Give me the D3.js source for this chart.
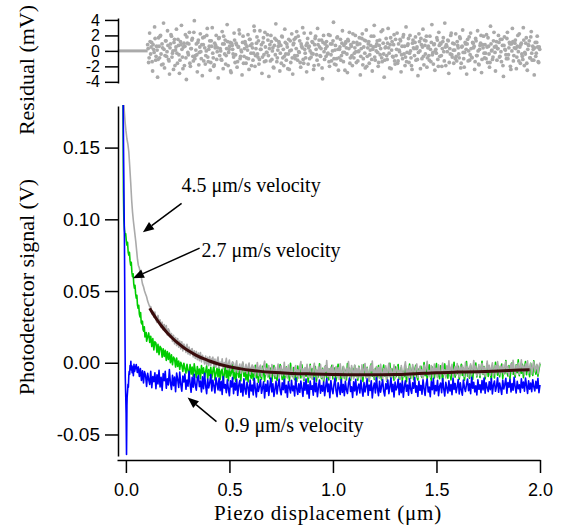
<!DOCTYPE html>
<html><head><meta charset="utf-8">
<script src="https://cdn.jsdelivr.net/npm/d3@7"></script>
<style>
html,body{margin:0;padding:0;background:#fff;}
svg{display:block;}
</style></head>
<body>
<script>
// ---------------- DATA (signal in mV, displacement in µm) ----------------
const xTicks = [0, 0.5, 1.0, 1.5, 2.0];
const yTicks = [-0.05, 0, 0.05, 0.10, 0.15];
const resTicks = [-4, -2, 0, 2, 4];
const tailStep = 0.005;

// 4.5 µm/s trace (gray)
const grayHead = [[-0.016,250],[-0.012,190],[-0.008,176],[-0.004,168],[0.0,162],[0.005,156],[0.01,152],[0.014,147],[0.018,138],[0.023,126],[0.028,113],[0.032,105],[0.036,99],[0.04,94],[0.044,89],[0.048,84],[0.052,78],[0.056,72],[0.06,68],[0.065,66],[0.07,62],[0.075,59],[0.08,55],[0.085,53],[0.09,50],[0.095,48],[0.1,46],[0.105,43],[0.11,41],[0.115,39]];
const grayTailStart = 0.12;
const grayTail = [
39.2,34.1,36.0,31.8,35.4,30.2,28.1,33.0,27.4,29.9,24.6,28.3,23.0,26.7,21.8,25.9,19.4,23.6,22.1,17.8,
20.3,14.9,19.2,13.1,17.6,12.0,16.9,10.8,15.2,9.7,14.6,8.3,13.0,11.4,7.2,12.8,6.1,10.9,5.4,9.3,
9.8,4.1,8.3,3.0,7.9,2.2,6.8,1.4,7.1,0.6,5.2,2.9,-0.8,4.6,-1.3,3.8,-2.0,4.4,-1.9,2.7,
3.9,-2.4,2.6,-3.1,1.2,4.0,-3.8,0.5,-2.2,2.8,-4.3,0.1,-1.5,3.1,-4.7,-0.6,1.9,-5.2,-1.4,0.7,
-0.3,-6.1,-2.0,1.4,-6.8,-3.3,-0.9,-7.2,-1.8,0.6,-6.4,-4.0,-1.1,-7.5,-2.7,-0.2,-8.0,-3.6,-1.5,-7.1,
-2.3,-8.4,-4.6,0.2,-8.9,-3.0,-1.7,-9.3,-5.1,-2.4,1.1,-8.2,-3.9,-9.6,-2.0,-6.3,-10.1,-1.2,-4.4,-9.0,
-3.1,-9.8,-5.5,-0.9,-10.4,-4.0,-2.2,-9.1,-6.7,0.4,-8.8,-3.5,-10.6,-1.6,-5.8,-9.9,-2.9,-7.7,-11.0,-3.8,
-1.9,-9.5,-4.9,-10.7,-2.6,0.8,-8.6,-4.2,-11.2,-3.3,-6.9,-1.0,-10.0,-5.2,-2.1,-9.4,-11.5,-3.7,-0.4,-8.1,
-5.0,-10.9,-2.8,-7.6,-1.3,-10.3,-4.5,-11.8,-2.4,-6.2,1.5,-9.7,-4.1,-11.0,-3.0,-8.5,-1.8,-10.6,-5.6,-2.7,
-9.9,-3.4,-11.6,-0.7,-6.8,-10.2,-2.5,-4.9,-12.0,-3.8,-9.1,0.9,-7.3,-10.8,-2.0,-5.4,-11.3,-1.6,-8.7,-4.0,
-10.5,-2.9,-6.1,-11.9,-1.4,-9.6,-4.3,-0.5,-10.9,-3.6,-7.8,-12.1,-2.2,-5.7,1.2,-9.3,-4.8,-11.4,-2.6,-8.0,
-3.3,-10.7,-1.0,-6.5,-11.7,-4.0,-8.9,-2.1,-12.3,-5.1,-0.3,-9.8,-3.9,-10.4,-6.7,-1.5,-11.1,-4.6,-2.8,-9.2,
-5.3,-11.5,-1.9,-7.4,-10.0,-3.1,0.7,-9.0,-4.4,-11.2,-2.3,-6.0,-10.6,-1.2,-4.9,-9.7,-3.5,-0.8,-10.3,-5.8,
-2.5,-9.4,-4.7,-11.0,-1.6,-6.9,-3.2,1.0,-8.8,-5.5,-10.1,-2.0,-4.1,-9.6,-0.9,-7.1,-3.8,-10.4,-1.4,-6.2,
-9.2,-3.0,-0.2,-8.3,-4.9,-10.5,-2.1,-6.6,1.4,-9.0,-3.7,-1.1,-10.0,-5.2,-2.6,-8.7,-0.5,-4.4,-9.8,-2.9,
-7.5,-1.8,-4.2,-9.6,0.3,-5.9,-2.7,-10.2,-3.6,-0.8,-8.4,-4.8,1.6,-7.0,-2.3,-9.1,-5.4,-1.2,-8.9,-3.3,
-0.4,-7.8,-2.9,-9.4,-4.5,1.2,-6.3,-1.7,-8.6,-3.8,-0.1,-9.0,-5.0,-2.0,-7.4,0.8,-4.1,-8.2,-2.5,-6.7,
-1.3,-8.0,-3.2,0.9,-6.9,-2.4,-9.1,-4.6,-0.6,-7.5,1.7,-3.9,-8.4,-1.8,-5.5,-0.2,-7.9,-3.0,2.0,-6.1,
-2.2,-8.3,-0.9,-4.8,1.3,-7.2,-3.1,-0.5,-8.0,-2.6,0.6,-6.4,-3.7,-1.0,-7.7,-2.9,0.2];

// 2.7 µm/s trace (green)
const greenHead = [[-0.017,250],[-0.014,190],[-0.013,150],[-0.012,120],[-0.010,100],[-0.007,93],[-0.004,89],[-0.001,90],[0.002,85],[0.005,82],[0.008,84],[0.011,77],[0.014,75],[0.017,77],[0.020,71],[0.023,68],[0.026,70],[0.029,63],[0.032,60],[0.035,62],[0.038,55],[0.041,52],[0.044,54],[0.047,48],[0.050,45],[0.053,47],[0.056,40],[0.059,38],[0.062,40],[0.065,34],[0.068,32],[0.071,35],[0.074,28],[0.077,27],[0.080,29],[0.083,23],[0.086,22],[0.089,25],[0.092,18],[0.095,19],[0.098,21],[0.100,15]];
const greenTailStart = 0.11;
const greenTail = [
20.8,14.2,18.5,11.3,16.9,9.0,14.7,13.8,7.2,12.9,5.6,11.4,10.2,3.9,9.8,4.4,8.7,1.6,7.9,2.3,
6.8,0.1,5.5,-1.4,4.0,2.7,-3.0,3.3,-2.5,1.2,-4.6,0.4,-1.8,-6.0,-0.3,-4.1,-7.2,-1.0,-5.5,-8.3,
-1.2,-7.9,-3.0,-9.6,-0.8,-5.7,-10.4,-2.6,-8.1,-4.4,-11.2,-1.9,-7.3,-3.5,-10.0,-6.2,-2.1,-11.5,-4.8,-8.9,
-3.2,-10.6,-5.9,-1.6,-12.0,-7.4,-3.8,-9.8,-2.5,-11.7,-6.0,-4.4,-13.1,-8.2,-2.0,-10.3,-5.1,-12.5,-3.6,-9.2,
-6.7,-1.4,-11.3,-4.0,-13.0,-7.8,-2.7,-10.1,-5.5,-12.6,-3.1,-0.6,-9.4,-6.3,-11.9,-4.7,-13.4,-2.2,-8.5,-10.8,
-4.1,-12.2,-7.0,-1.8,-10.5,-5.6,-13.6,-3.3,-8.9,-11.4,-2.4,-6.8,-12.9,-4.9,-0.9,-9.7,-7.5,-11.1,-3.7,-13.2,
-5.8,-2.0,-10.9,-7.7,-12.4,-3.6,-9.1,-1.2,-6.2,-11.6,-4.5,-13.8,-8.0,-2.9,-10.2,-5.3,-12.7,-0.4,-7.1,-9.6,
-3.4,-11.8,-6.5,-13.1,-2.3,-8.7,-4.8,-10.6,-1.5,-7.9,-12.3,-5.0,-9.3,-3.0,-13.5,-6.9,-1.1,-10.4,-4.2,-11.5,
-7.6,-2.6,-12.8,-5.4,-9.9,-0.7,-6.6,-11.0,-3.9,-13.3,-8.4,-2.1,-10.7,-5.9,-12.0,-4.3,-8.1,-1.7,-11.2,-6.4,
-3.5,-12.6,-7.2,-1.0,-9.5,-4.6,-13.7,-6.1,-2.8,-10.8,-5.2,-11.9,-0.5,-8.6,-3.7,-12.4,-7.0,-4.1,-10.1,-1.9,
-9.0,-5.7,-12.1,-2.4,-7.8,-11.3,-4.4,-13.0,-1.3,-6.9,-10.0,-3.2,-8.8,-12.7,-5.1,-0.8,-9.4,-6.2,-11.6,-3.9,
-13.1,-7.3,-2.0,-10.5,-4.9,-11.9,-6.6,-1.6,-9.2,-3.6,-12.8,-8.0,-5.3,-0.3,-10.9,-4.2,-7.5,-12.2,-2.7,-9.7,
-5.6,-1.2,-11.4,-7.9,-3.4,-12.5,-6.0,-9.6,-2.2,-13.2,-4.8,-8.3,-0.9,-10.7,-6.4,-3.1,-11.8,-5.0,-1.7,-9.3,
-12.0,-4.3,-7.7,-2.5,-10.2,-6.1,0.2,-9.0,-3.8,-11.5,-5.7,-1.4,-8.6,-12.3,-3.0,-7.0,-10.6,-4.5,-0.6,-9.8,
-5.2,-11.1,-2.1,-7.4,-12.6,-3.9,-0.8,-9.3,-5.8,-10.7,-1.6,-6.8,-11.9,-3.3,-8.1,0.4,-10.0,-4.7,-7.6,-2.4,
-11.4,-5.5,-1.1,-8.8,-3.6,-12.1,-6.5,0.8,-9.4,-4.0,-10.8,-2.0,-7.2,-11.7,-3.1,-6.0,-0.2,-9.9,-5.1,-2.8,
-10.3,-4.6,1.1,-8.1,-2.7,-11.2,-5.9,-0.5,-9.5,-3.4,-7.0,-12.0,-1.8,-6.3,-10.6,0.3,-4.2,-8.7,-2.3,-9.8,
-5.0,-0.9,-10.9,-3.8,-7.6,1.5,-6.1,-9.2,-2.0,-11.3,-4.4,-0.1,-8.0,-5.6,-10.1,-1.5,-6.9,2.0,-9.0,-3.2,
-7.3,-1.1,-10.4,-4.0,0.9,-8.4,-2.6,-6.2,-9.7,-0.4,-5.3,-8.8,1.4,-3.5,-7.9,-1.8,-9.3,-4.6,-0.7];

// 0.9 µm/s trace (blue)
const blueHead = [[-0.018,260],[-0.014,200],[-0.011,140],[-0.009,110],[-0.007,85],[-0.006,60],[-0.005,35],[-0.004,10],[-0.003,-10],[-0.001,-22],[0.001,-35],[0.003,-64],[0.005,-30],[0.006,-24],[0.008,-20],[0.010,-15],[0.012,-17],[0.014,-9],[0.016,-6],[0.018,-8],[0.020,-2],[0.022,-4],[0.024,1],[0.026,-5],[0.028,-2],[0.030,-7],[0.033,-3],[0.036,-9],[0.039,-1],[0.042,-6]];
const blueTailStart = 0.05;
const blueTail = [
-1.2,-6.8,-2.9,-9.5,-4.1,-12.3,-5.6,-14.0,-6.2,-8.9,-16.5,-7.3,-11.8,-15.1,-5.9,-17.4,-9.6,-13.2,-7.0,-18.1,
-8.4,-14.7,-5.2,-16.9,-10.1,-19.3,-7.6,-12.5,-6.0,-17.8,-11.2,-15.4,-4.8,-13.9,-18.6,-8.7,-16.0,-9.9,-20.2,-7.1,
-11.6,-17.2,-6.5,-15.0,-19.8,-9.3,-13.4,-7.8,-18.5,-12.0,-16.3,-5.9,-14.8,-20.6,-10.2,-17.0,-8.1,-15.7,-19.1,-11.0,
-8.9,-16.6,-12.7,-20.3,-9.8,-18.0,-7.4,-15.9,-21.5,-11.3,-17.5,-13.8,-8.2,-19.6,-12.1,-16.2,-21.0,-10.4,-14.5,-18.9,
-10.8,-19.4,-13.0,-22.1,-9.6,-17.7,-15.2,-20.8,-11.9,-18.3,-23.0,-12.6,-16.8,-10.3,-21.6,-14.1,-19.0,-11.5,-22.7,-15.8,
-12.4,-20.5,-14.9,-23.2,-11.1,-18.6,-21.9,-13.7,-17.1,-24.1,-12.0,-19.7,-15.6,-22.5,-10.9,-18.1,-23.8,-14.3,-20.0,-16.4,
-11.8,-21.3,-17.7,-13.2,-24.6,-15.0,-19.9,-12.5,-22.8,-16.6,-10.7,-20.4,-14.6,-23.5,-18.4,-12.9,-21.7,-16.0,-11.4,-19.2,
-22.3,-14.0,-18.8,-11.6,-20.9,-15.7,-24.0,-13.1,-17.3,-21.0,-12.2,-19.5,-16.3,-23.1,-10.8,-18.0,-22.0,-14.7,-20.6,-12.8,
-17.9,-23.4,-13.6,-19.1,-11.3,-21.8,-15.4,-24.7,-12.7,-18.5,-16.1,-22.6,-10.5,-20.2,-14.2,-23.7,-17.0,-12.0,-21.2,-15.9,
-19.8,-13.4,-22.9,-16.7,-11.0,-20.1,-14.8,-24.3,-12.4,-18.2,-21.5,-15.3,-10.9,-19.4,-23.6,-13.9,-17.6,-22.1,-11.7,-20.7,
-15.1,-23.0,-12.9,-18.9,-21.4,-14.4,-10.6,-20.0,-16.8,-24.2,-13.3,-19.6,-11.5,-22.4,-17.2,-14.9,-21.1,-12.3,-18.7,-23.3,
-13.8,-20.3,-16.4,-11.2,-22.7,-15.6,-19.3,-12.6,-24.5,-17.4,-14.1,-21.0,-10.4,-18.1,-22.9,-13.0,-20.5,-16.2,-11.9,-19.7,
-23.1,-14.6,-18.3,-12.1,-21.6,-16.9,-10.7,-20.2,-15.0,-23.8,-13.5,-19.0,-17.1,-11.6,-22.2,-14.3,-20.8,-12.8,-24.0,-16.5,
-12.5,-19.9,-15.5,-22.6,-11.1,-18.4,-21.3,-14.0,-17.8,-10.3,-20.6,-16.1,-23.4,-12.9,-19.2,-15.8,-21.9,-11.8,-18.0,-22.8,
-14.8,-11.4,-20.4,-17.0,-23.6,-13.1,-18.7,-10.8,-21.7,-15.9,-19.5,-12.2,-22.9,-16.3,-14.2,-20.9,-11.0,-18.2,-23.2,-13.7,
-17.5,-21.1,-12.6,-19.7,-15.2,-22.3,-10.9,-18.6,-14.4,-20.8,-16.7,-11.7,-21.8,-13.9,-19.1,-22.6,-12.1,-17.2,-20.0,-15.0,
-11.3,-19.4,-14.7,-21.5,-10.2,-17.8,-13.6,-20.3,-16.1,-22.4,-11.9,-18.5,-15.3,-20.9,-12.4,-19.0,-10.6,-21.2,-14.0,-17.3,
-20.1,-13.2,-18.8,-11.0,-21.7,-15.6,-12.7,-19.9,-16.4,-10.4,-20.6,-14.1,-17.9,-22.0,-12.0,-18.3,-15.1,-10.9,-21.3,-13.8,
-17.0,-11.6,-20.4,-14.5,-19.2,-10.1,-16.8,-21.1,-12.9,-18.1,-15.4,-20.7,-11.2,-17.6,-13.5,-19.8,-10.7,-16.0,-21.4,-12.6,
-18.4,-14.2,-20.2,-11.8,-16.7,-19.6,-13.0,-17.9,-10.9,-20.8,-15.5];

// exponential fit to the 4.5 µm/s trace
const fitCurve = [[0.115,38],[0.13,34.4],[0.15,30.0],[0.17,26.0],[0.2,20.8],[0.225,17.1],[0.25,13.8],[0.275,11.0],[0.3,8.5],[0.325,6.4],[0.35,4.5],[0.375,2.8],[0.4,1.4],[0.45,-1.0],[0.5,-2.8],[0.55,-4.1],[0.6,-5.2],[0.65,-6.0],[0.7,-6.6],[0.8,-7.4],[0.9,-7.8],[1.0,-8.1],[1.1,-8.3],[1.2,-8.3],[1.3,-8.2],[1.4,-7.6],[1.5,-6.9],[1.6,-6.5],[1.7,-6.2],[1.8,-5.7],[1.9,-5.1],[1.95,-4.8]];

// residual of the fit (mV): even samples (A) and odd samples (B)
const residualFlat = [[-0.04,0],[0.105,0]];
const resX0 = 0.105, resDx = 0.0048;
const residualsA = [
0.8,-1.5,2.3,-0.4,1.1,-2.6,0.2,3.1,-1.2,0.6,-3.4,1.7,-0.9,2.0,-1.8,0.4,3.6,-2.2,1.3,-0.7,
2.6,-1.1,-3.0,0.9,1.9,-0.3,-2.4,1.5,0.1,2.8,-1.6,0.7,-2.9,1.2,3.3,-0.8,0.5,-1.9,2.1,-3.7,
1.0,-0.5,2.4,-2.0,0.3,1.6,-1.3,3.9,-0.6,0.9,-2.7,1.4,-0.2,2.2,-1.0,-3.2,0.8,1.8,-1.7,0.0,
2.9,-1.4,0.6,-2.5,1.3,3.0,-0.9,-1.8,0.4,2.0,-0.1,-3.5,1.7,0.3,-1.1,2.5,-2.3,0.9,1.4,-0.6,
3.4,-1.9,0.2,1.1,-2.8,0.7,-0.4,2.3,-1.5,1.0,-2.1,0.5,2.7,-1.0,0.1,-3.1,1.9,-0.7,1.2,-1.6,
0.6,2.1,-2.4,1.5,-0.3,0.9,-1.2,3.2,-2.0,0.3,1.8,-0.8,-1.7,2.6,0.2,-2.9,1.1,-0.5,2.4,-1.3,
-0.2,1.4,-3.3,0.8,2.0,-1.1,0.4,-2.2,1.6,3.5,-1.4,0.1,1.2,-2.6,0.7,1.9,-0.9,-1.9,2.8,-0.4,
0.9,-2.3,1.5,0.0,-1.5,2.2,-3.0,1.0,-0.6,1.7,2.5,-1.2,-0.1,1.3,-2.1,0.6,3.0,-1.6,0.2,-0.9,
-2.7,1.6,0.4,-1.0,2.3,-0.3,1.1,-2.4,0.8,1.9,-0.5,2.9,-1.8,0.5,-0.7,1.4,-3.6,2.0,-1.1,0.3,
1.2,-0.4,2.1,-2.0,0.9,-1.3,0.0,3.7,-1.7,0.7,-1.0,1.8,-2.5,0.2,1.5,-0.6,2.6,-1.4,-0.2,1.0,
0.4,-2.8,1.3,2.4,-0.9,0.6,-1.9,1.1,-0.3,2.0,-1.5,0.8,-0.1,1.7,-3.1,0.3,2.2,-1.0,1.4,-2.2,
2.7,-0.7,0.9,-1.6,0.1,1.9,-2.6,0.5,3.3,-1.2,0.0,1.3,-2.0,0.7,-0.5,2.5,-1.4,1.0,-3.4,0.4,
1.6,-1.1,2.9,-0.3,0.8,-2.3,1.2,-0.8,2.1,-1.7,-0.6,2.3,-1.3,0.1,1.5,-2.7,0.6,1.8,-0.4,-1.9,
3.1,-0.2,0.9,-1.5,2.0,-0.9,-2.4,1.4,0.3,1.1,-1.2,0.5,-3.2,2.2,0.0,1.6,-1.0,2.8,-1.8,0.7,
1.3,-2.1,0.4,-0.6,1.9,-1.4,3.4,-0.2,0.8,-2.5,0.2,1.7,-1.1,2.4,-0.7,0.9,-2.0,1.2,-0.1,3.6,
-1.9,0.6,1.4,-2.9,0.3,2.0,-0.5,1.0,-1.6,0.1,2.2,-1.3,0.7,-0.4,1.8,-2.2,0.5,2.7,-1.0,-0.2,
0.9,-3.0,1.5,0.0,-1.2,2.3,-0.8,1.1,0.4,-2.4,1.6,-0.6,2.6,-1.7,0.2,1.0,-2.8,0.8,1.9,-0.9,
-0.3,2.1,-1.5,0.6,-2.1,3.2,0.0,-1.1,1.3,0.5,-2.6,1.2,0.3,2.0,-0.8,1.5,-1.4,0.7,-3.3,1.8,
0.1,-1.0,2.4,-0.5,1.1,-2.0,0.9,2.9,-1.3,0.4,1.4,-2.3,0.6,-0.1,2.2,-1.6,1.0,-0.7,3.0,-1.9,
-0.4,1.7,-2.5,0.8,1.3,-0.9,2.5,-1.2,0.2,-3.1,1.1,-0.3,1.9,-1.4,0.5];
const residualsB = [
0.3,-0.9,1.2,0.5,-1.4,0.8,-0.2,1.6,-0.7,0.1,-1.1,0.6,1.9,-0.4,0.9,-1.7,0.2,-0.6,1.3,-0.1,
0.7,-1.3,0.4,2.1,-0.8,0.0,1.1,-1.9,0.5,-0.3,1.5,-0.5,-1.2,0.8,0.2,-2.3,1.0,0.6,-0.9,1.8,
-0.2,0.9,-1.6,0.3,1.4,-0.7,2.4,-1.0,0.1,-0.5,1.1,-1.8,0.5,-0.1,0.8,1.7,-1.3,0.4,-0.6,2.0,
-0.8,0.2,1.3,-1.5,0.6,-0.3,-2.0,1.0,0.7,-1.1,0.4,1.6,-0.6,0.0,-1.2,0.9,1.9,-0.4,-1.7,0.3,
1.2,-0.2,0.6,-2.6,1.0,0.2,-0.8,1.4,-0.5,0.8,-1.4,0.5,2.2,-0.7,-0.1,1.1,-1.6,0.3,0.9,-0.9,
0.1,-1.0,1.5,0.7,-1.9,0.4,-0.3,2.6,-0.6,1.0,-0.4,1.3,-1.1,0.2,0.8,-0.8,1.7,-1.4,0.5,-0.2,
2.1,-0.6,0.3,-1.3,1.2,0.0,-2.1,0.7,-0.5,1.4,-0.9,0.6,1.0,-0.3,-1.6,1.8,0.2,-0.7,1.1,-1.2,
0.5,-0.4,-2.4,1.3,0.1,-0.9,0.8,1.5,-1.0,0.3,-0.6,1.9,-0.2,-1.5,0.9,0.4,-1.1,2.3,-0.3,0.7,
1.0,-1.7,0.6,0.0,-0.8,1.2,-0.4,-1.9,1.6,0.2,-1.2,0.8,1.4,-0.6,0.3,-2.2,1.1,-0.1,0.9,-0.7,
0.6,-0.3,-1.4,2.0,-0.5,0.9,1.3,-1.0,0.1,-1.8,1.7,0.2,-0.9,0.5,-1.2,1.0,-0.2,0.7,-2.5,1.2,
-0.4,1.5,0.3,-1.6,0.8,-0.6,2.2,-0.9,0.4,-0.1,1.1,-1.3,0.0,0.9,-0.7,1.6,-1.8,0.5,-0.3,1.3,
-2.0,0.4,1.2,-0.5,0.7,-1.1,0.2,1.9,-0.8,0.6,0.9,-0.2,-1.5,1.4,0.3,-0.9,2.7,-0.4,-1.2,0.5,
-0.6,1.0,0.4,-2.2,1.7,0.1,-0.7,0.8,-1.3,1.5,0.2,-1.6,0.9,-0.1,1.3,-0.5,-1.0,2.1,0.6,-0.8,
-1.4,0.7,1.6,-0.3,0.0,-1.9,1.0,0.4,-0.6,1.8,0.3,-1.1,-0.2,1.2,-2.3,0.8,0.5,-0.7,1.4,-0.4,
1.9,-0.9,0.6,-1.2,0.2,1.1,-0.5,-1.7,0.9,0.0,-0.3,1.4,-2.0,0.7,1.0,-0.6,0.3,1.7,-1.3,0.5,
0.8,-0.1,1.3,-1.5,-0.4,2.3,-0.8,0.1,0.9,-1.0,-0.7,1.2,0.4,-0.9,1.6,-1.6,0.6,-0.2,-2.1,1.1,
0.2,0.9,-1.3,1.8,-0.5,0.3,-0.9,1.0,0.6,-1.4,1.3,-0.6,0.0,-1.8,0.7,2.0,-1.1,0.4,-0.3,0.8,
-1.0,0.5,1.7,-0.4,-1.5,0.9,0.1,-0.8,2.4,-0.2,0.6,-1.2,0.3,1.1,-0.7,-0.1,1.5,-1.9,0.7,0.2,
-0.5,1.6,-1.0,0.4,0.9,-2.4,0.0,1.2,-0.6,1.0,0.3,-0.8,2.0,-1.3,0.5,0.8,-0.4,-1.1,1.4,-0.2,
1.0,-1.6,0.2,0.7,-0.9,1.8,-0.3,0.6,-1.2,0.4,-0.7,1.1,0.5,-1.5,0.2];

// annotations (data units: µm, mV)
const annotations = [
  {label:"4.5 μm/s velocity", at:[0.269,118.8], from:[0.269,111.1], to:[0.082,91.0]},
  {label:"2.7 μm/s velocity", at:[0.365,73.6], from:[0.356,79.9], to:[0.034,59.0]},
  {label:"0.9 μm/s velocity", at:[0.476,-48.6], from:[0.4375,-41.0], to:[0.298,-24.3]}
];

// ---------------- DRAW ----------------
const W = 562, H = 527;
const SERIF = "'Liberation Serif','Times New Roman',Times,serif";
const SANS = "'Liberation Sans',Arial,Helvetica,sans-serif";

const svg = d3.select("body").append("svg").attr("width", W).attr("height", H);

const x = d3.scaleLinear().domain([-0.043, 2.0]).range([117, 540]);
const y = d3.scaleLinear().domain([-0.065, 0.179]).range([456, 106]);
const yr = d3.scaleLinear().domain([-4.15, 4.25]).range([83, 18]);
const mv = v => y(v / 1000);

function buildTrace(head, start, tail) {
  return head.concat(tail.map((v, i) => [start + i * tailStep, v]));
}

svg.append("clipPath").attr("id", "clip")
  .append("rect").attr("x", 118).attr("y", 105).attr("width", 430).attr("height", 356);

const plot = svg.append("g").attr("clip-path", "url(#clip)");
const line = d3.line().x(d => x(d[0])).y(d => mv(d[1]));

// drawing order: green, gray, blue, then the fit on top
const traces = [
  {data: buildTrace(greenHead, greenTailStart, greenTail), color: "#00cc00"},
  {data: buildTrace(grayHead, grayTailStart, grayTail), color: "#aaaaaa"},
  {data: buildTrace(blueHead, blueTailStart, blueTail), color: "#0000ff"}
];
traces.forEach(t => {
  plot.append("path").datum(t.data).attr("d", line)
    .attr("fill", "none").attr("stroke", t.color).attr("stroke-width", 1.6)
    .attr("stroke-linejoin", "round");
});
plot.append("path").datum(fitCurve)
  .attr("d", d3.line().x(d => x(d[0])).y(d => mv(d[1])).curve(d3.curveMonotoneX))
  .attr("fill", "none").attr("stroke", "#3a0c0c").attr("stroke-width", 3);

// annotations
annotations.forEach(a => {
  const x1 = x(a.from[0]), y1 = mv(a.from[1]);
  const x2 = x(a.to[0]), y2 = mv(a.to[1]);
  const ang = Math.atan2(y2 - y1, x2 - x1);
  const L = 11, Wd = 4.5;
  const bx = x2 - L * Math.cos(ang), by = y2 - L * Math.sin(ang);
  svg.append("line").attr("x1", x1).attr("y1", y1).attr("x2", bx).attr("y2", by)
    .attr("stroke", "#000").attr("stroke-width", 1.5);
  const px = -Math.sin(ang), py = Math.cos(ang);
  svg.append("polygon")
    .attr("points", [[x2, y2], [bx + px * Wd, by + py * Wd], [bx - px * Wd, by - py * Wd]].map(p => p.join(",")).join(" "))
    .attr("fill", "#000");
  svg.append("text").attr("x", x(a.at[0])).attr("y", mv(a.at[1]))
    .attr("font-family", SERIF).attr("font-size", 20).attr("fill", "#000").text(a.label);
});

// residual panel
svg.append("path").datum(residualFlat)
  .attr("d", d3.line().x(d => x(d[0])).y(d => yr(d[1])))
  .attr("stroke", "#aaaaaa").attr("stroke-width", 3).attr("fill", "none");
const resPoints = residualsA.map((v, i) => [resX0 + i * resDx, v])
  .concat(residualsB.map((v, i) => [resX0 + resDx / 2 + i * resDx, v]));
svg.append("g").selectAll("circle").data(resPoints).join("circle")
  .attr("cx", d => x(d[0])).attr("cy", d => yr(d[1]))
  .attr("r", 1.9).attr("fill", "#aaaaaa");

const hyph = f => v => f(v).replace("\u2212", "-");

function styleAxis(g, fs) {
  g.selectAll("path.domain").attr("stroke", "#000").attr("stroke-width", 1.5);
  g.selectAll(".tick line").attr("stroke", "#000").attr("stroke-width", 1.5);
  g.selectAll(".tick text").attr("font-family", SANS).attr("font-size", fs).attr("fill", "#000");
}

const gy = svg.append("g").attr("transform", "translate(118,0)")
  .call(d3.axisLeft(y).tickValues(yTicks).tickFormat(hyph(d3.format(".2f"))).tickSize(13).tickSizeOuter(0).tickPadding(5));
styleAxis(gy, 19);

const gx = svg.append("g").attr("transform", "translate(0,460)")
  .call(d3.axisBottom(x).tickValues(xTicks).tickFormat(d3.format(".1f")).tickSize(13).tickSizeOuter(0).tickPadding(10));
styleAxis(gx, 18);

const gr = svg.append("g").attr("transform", "translate(118,0)")
  .call(d3.axisLeft(yr).tickValues(resTicks).tickFormat(hyph(d3.format("d"))).tickSize(13).tickSizeOuter(0).tickPadding(5));
styleAxis(gr, 16);

// titles
svg.append("text").attr("x", 328).attr("y", 520).attr("text-anchor", "middle")
  .attr("font-family", SERIF).attr("font-size", 21).attr("letter-spacing", 0.8)
  .text("Piezo displacement (μm)");
svg.append("text").attr("transform", "translate(34,287) rotate(-90)").attr("text-anchor", "middle")
  .attr("font-family", SERIF).attr("font-size", 22).text("Photodetector signal (V)");
svg.append("text").attr("transform", "translate(34,70) rotate(-90)").attr("text-anchor", "middle")
  .attr("font-family", SERIF).attr("font-size", 22).text("Residual (mV)");
</script>
</body></html>
